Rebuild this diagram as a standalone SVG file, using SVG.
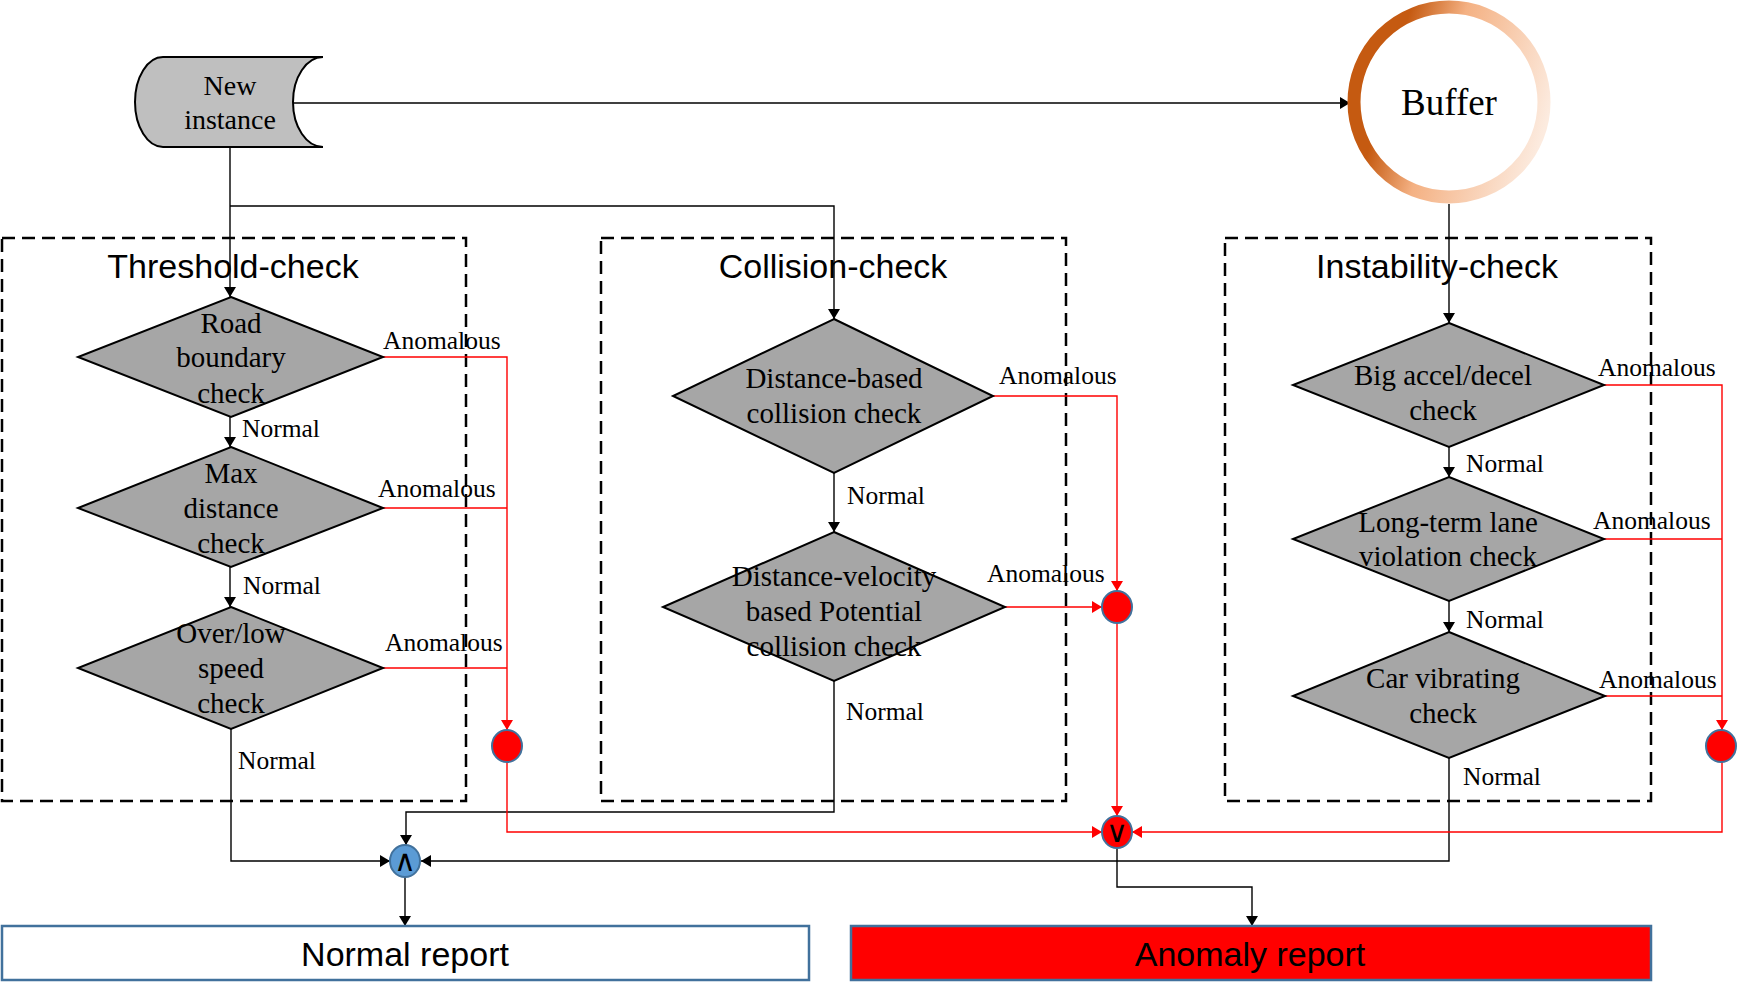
<svg xmlns="http://www.w3.org/2000/svg" width="1737" height="1000" viewBox="0 0 1737 1000">
<style>
.serif{font-family:"Liberation Serif","Times New Roman",serif;fill:#000}
.node{font-size:29px;text-anchor:middle}
.lbl{font-size:25.5px}
.sans{font-family:"Liberation Sans",Arial,sans-serif;fill:#000}
.title{font-size:34px;text-anchor:middle}
.dia{fill:#A6A6A6;stroke:#000;stroke-width:2}
.box{fill:none;stroke:#000;stroke-width:2.5;stroke-dasharray:13 7}
.blk{fill:none;stroke:#000;stroke-width:1.4}
.red{fill:none;stroke:#FF0000;stroke-width:1.4}
.rdot{fill:#FF0000;stroke:#41719C;stroke-width:2}
.bdot{fill:#5B9BD5;stroke:#41719C;stroke-width:2}
.gate{font-family:"DejaVu Sans",sans-serif;font-size:30px;text-anchor:middle;fill:#000}
</style>
<defs>
<marker id="ab" markerWidth="10" markerHeight="12" refX="10" refY="6" orient="auto" markerUnits="userSpaceOnUse"><path d="M0,0 L10,6 L0,12 z" fill="#000"/></marker>
<marker id="ar" markerWidth="10" markerHeight="12" refX="10" refY="6" orient="auto" markerUnits="userSpaceOnUse"><path d="M0,0 L10,6 L0,12 z" fill="#FF0000"/></marker>
<linearGradient id="ring" x1="0" y1="0.35" x2="1" y2="0.65">
<stop offset="0" stop-color="#C55A11"/>
<stop offset="0.18" stop-color="#C55A11"/>
<stop offset="0.45" stop-color="#F4B183"/>
<stop offset="1" stop-color="#FCEBDF"/>
</linearGradient>
</defs>

<g id="threshold-group">
<rect class="box" x="2" y="238" width="464" height="563"/>
<text class="sans title" x="233" y="278">Threshold-check</text>
</g>
<g id="collision-group">
<rect class="box" x="601" y="238" width="465" height="563"/>
<text class="sans title" x="833" y="278">Collision-check</text>
</g>
<g id="instability-group">
<rect class="box" x="1225" y="238" width="426" height="563"/>
<text class="sans title" x="1437" y="278">Instability-check</text>
</g>

<g id="connectors">
<path class="blk" d="M293,103 H1350" marker-end="url(#ab)"/>
<path class="blk" d="M230,147 V297" marker-end="url(#ab)"/>
<path class="blk" d="M230,206 H834 V319" marker-end="url(#ab)"/>
<path class="blk" d="M230,417 V447" marker-end="url(#ab)"/>
<path class="blk" d="M230,567 V607" marker-end="url(#ab)"/>
<path class="blk" d="M231,729 V861 H390" marker-end="url(#ab)"/>
<path class="blk" d="M834,473 V532" marker-end="url(#ab)"/>
<path class="blk" d="M834,681 V812 H406 V845" marker-end="url(#ab)"/>
<path class="blk" d="M1449,204 V323" marker-end="url(#ab)"/>
<path class="blk" d="M1449,447 V477" marker-end="url(#ab)"/>
<path class="blk" d="M1449,601 V632" marker-end="url(#ab)"/>
<path class="blk" d="M1449,758 V861 H421" marker-end="url(#ab)"/>
<path class="blk" d="M405,877 V926" marker-end="url(#ab)"/>
<path class="blk" d="M1117,849 V887 H1252 V926" marker-end="url(#ab)"/>
<path class="red" d="M383,357 H507 V730" marker-end="url(#ar)"/>
<path class="red" d="M383,508 H507"/>
<path class="red" d="M383,668 H507"/>
<path class="red" d="M507,762 V832 H1102" marker-end="url(#ar)"/>
<path class="red" d="M993,396 H1117 V591" marker-end="url(#ar)"/>
<path class="red" d="M1005,607 H1102" marker-end="url(#ar)"/>
<path class="red" d="M1117,623 V816" marker-end="url(#ar)"/>
<path class="red" d="M1604,385 H1722 V730" marker-end="url(#ar)"/>
<path class="red" d="M1604,539 H1722"/>
<path class="red" d="M1605,696 H1722"/>
<path class="red" d="M1722,762 V832 H1132" marker-end="url(#ar)"/>
</g>

<g id="labels">
<text class="serif lbl" x="242" y="437">Normal</text>
<text class="serif lbl" x="243" y="594">Normal</text>
<text class="serif lbl" x="238" y="769">Normal</text>
<text class="serif lbl" x="847" y="504">Normal</text>
<text class="serif lbl" x="846" y="720">Normal</text>
<text class="serif lbl" x="1466" y="472">Normal</text>
<text class="serif lbl" x="1466" y="628">Normal</text>
<text class="serif lbl" x="1463" y="785">Normal</text>
<text class="serif lbl" x="383" y="349">Anomalous</text>
<text class="serif lbl" x="378" y="497">Anomalous</text>
<text class="serif lbl" x="385" y="651">Anomalous</text>
<text class="serif lbl" x="999" y="384">Anomalous</text>
<text class="serif lbl" x="987" y="582">Anomalous</text>
<text class="serif lbl" x="1598" y="376">Anomalous</text>
<text class="serif lbl" x="1593" y="529">Anomalous</text>
<text class="serif lbl" x="1599" y="688">Anomalous</text>
</g>

<g id="new-instance">
<path d="M163,57 H323 A30,45 0 0 0 323,147 H163 A28,45 0 0 1 163,57 Z" fill="#BFBFBF" stroke="#000" stroke-width="2"/>
<text class="serif" font-size="28" text-anchor="middle" x="230" y="95">New</text>
<text class="serif" font-size="28" text-anchor="middle" x="230" y="129">instance</text>
</g>

<g id="buffer">
<circle cx="1449" cy="102" r="95" fill="#FFF" stroke="url(#ring)" stroke-width="13"/>
<text class="serif" font-size="37" text-anchor="middle" x="1449" y="115">Buffer</text>
</g>

<g id="road-boundary-check">
<polygon class="dia" points="231,297 383,357 231,417 78,357"/>
<text class="serif node" x="231" y="333">Road</text>
<text class="serif node" x="231" y="367">boundary</text>
<text class="serif node" x="231" y="403">check</text>
</g>
<g id="max-distance-check">
<polygon class="dia" points="231,447 383,508 231,567 78,508"/>
<text class="serif node" x="231" y="483">Max</text>
<text class="serif node" x="231" y="518">distance</text>
<text class="serif node" x="231" y="553">check</text>
</g>
<g id="over-low-speed-check">
<polygon class="dia" points="231,607 383,668 231,729 78,668"/>
<text class="serif node" x="231" y="643">Over/low</text>
<text class="serif node" x="231" y="678">speed</text>
<text class="serif node" x="231" y="713">check</text>
</g>

<g id="distance-based-collision-check">
<polygon class="dia" points="834,319 993,396 834,473 673,396"/>
<text class="serif node" x="834" y="388">Distance-based</text>
<text class="serif node" x="834" y="423">collision check</text>
</g>
<g id="distance-velocity-check">
<polygon class="dia" points="834,532 1005,607 834,681 663,607"/>
<text class="serif node" x="834" y="586">Distance-velocity</text>
<text class="serif node" x="834" y="621">based Potential</text>
<text class="serif node" x="834" y="656">collision check</text>
</g>

<g id="big-accel-decel-check">
<polygon class="dia" points="1449,323 1604,385 1449,447 1293,385"/>
<text class="serif node" x="1443" y="385">Big accel/decel</text>
<text class="serif node" x="1443" y="420">check</text>
</g>
<g id="long-term-lane-check">
<polygon class="dia" points="1449,477 1604,539 1449,601 1293,539"/>
<text class="serif node" x="1448" y="532">Long-term lane</text>
<text class="serif node" x="1448" y="566">violation check</text>
</g>
<g id="car-vibrating-check">
<polygon class="dia" points="1449,632 1605,696 1449,758 1293,696"/>
<text class="serif node" x="1443" y="688">Car vibrating</text>
<text class="serif node" x="1443" y="723">check</text>
</g>

<g id="threshold-merge"><ellipse class="rdot" cx="507" cy="746" rx="15" ry="16"/></g>
<g id="collision-merge"><ellipse class="rdot" cx="1117" cy="607" rx="15" ry="16"/></g>
<g id="instability-merge"><ellipse class="rdot" cx="1721" cy="746" rx="15" ry="16"/></g>
<g id="or-gate">
<ellipse class="rdot" cx="1117" cy="832" rx="15" ry="16"/>
<text class="gate" x="1117" y="842">∨</text>
</g>
<g id="and-gate">
<ellipse class="bdot" cx="405" cy="861" rx="15" ry="16"/>
<text class="gate" x="405" y="871">∧</text>
</g>

<g id="normal-report">
<rect x="2" y="926" width="807" height="54" fill="#FFF" stroke="#41719C" stroke-width="2.5"/>
<text class="sans" font-size="34" text-anchor="middle" x="405" y="966">Normal report</text>
</g>
<g id="anomaly-report">
<rect x="851" y="926" width="800" height="54" fill="#FF0000" stroke="#41719C" stroke-width="2.5"/>
<text class="sans" font-size="34" text-anchor="middle" x="1250" y="966">Anomaly report</text>
</g>
</svg>
